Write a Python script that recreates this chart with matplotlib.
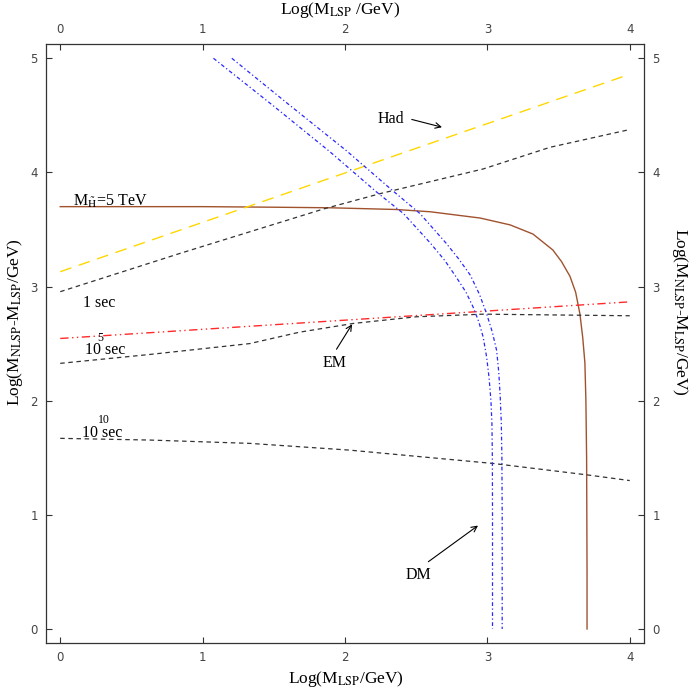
import numpy as np
import matplotlib
matplotlib.use('Agg')
import matplotlib.pyplot as plt

plt.rcParams['font.family'] = ['Liberation Serif', 'DejaVu Serif']
plt.rcParams['mathtext.fontset'] = 'stix'

# M_Htilde = 5 TeV contour
mh_x = [0.0, 1.0, 1.5, 1.9, 2.36, 2.6, 2.95, 3.16, 3.32, 3.46, 3.52, 3.58, 3.62, 3.65, 3.67, 3.685, 3.692, 3.697, 3.70, 3.70]
mh_y = [3.70, 3.70, 3.695, 3.69, 3.675, 3.655, 3.60, 3.54, 3.46, 3.32, 3.22, 3.09, 2.95, 2.76, 2.55, 2.33, 2.0, 1.5, 0.5, 0.0]

# hadronic bound (yellow)
had_x = [0.0, 4.0]
had_y = [3.13, 4.86]

# EM bound (red)
em_x = [0.0, 4.0]
em_y = [2.545, 2.866]

# lifetime contours
t1_x = [0.0, 0.84, 1.85, 2.25, 2.97, 3.44, 3.98]
t1_y = [2.955, 3.29, 3.68, 3.815, 4.03, 4.22, 4.37]
t5_x = [0.0, 0.63, 1.33, 1.68, 2.06, 2.5, 2.97, 4.0]
t5_y = [2.327, 2.405, 2.50, 2.60, 2.677, 2.735, 2.758, 2.744]
t10_x = [0.0, 0.63, 1.33, 2.03, 3.04, 3.70, 4.0]
t10_y = [1.67, 1.655, 1.626, 1.567, 1.45, 1.35, 1.30]

# dark matter band (blue)
dm1_x = [1.076, 1.5, 1.895, 2.22, 2.41, 2.60, 2.70, 2.78, 2.85, 2.90, 2.94, 2.97, 2.995, 3.012, 3.025, 3.032, 3.035, 3.036, 3.036]
dm1_y = [5.0, 4.58, 4.18, 3.83, 3.64, 3.38, 3.23, 3.085, 2.95, 2.82, 2.69, 2.56, 2.38, 2.2, 2.0, 1.8, 1.5, 1.0, 0.0]
dm2_x = [1.205, 1.6, 2.01, 2.316, 2.526, 2.71, 2.80, 2.88, 2.945, 2.995, 3.035, 3.065, 3.08, 3.09, 3.098, 3.102, 3.104, 3.104]
dm2_y = [5.0, 4.60, 4.19, 3.86, 3.64, 3.38, 3.24, 3.10, 2.93, 2.76, 2.60, 2.44, 2.25, 2.04, 1.8, 1.5, 1.0, 0.0]

fig = plt.figure(figsize=(6.95, 6.94), dpi=100)
ax = fig.add_axes([0.0662, 0.0735, 0.8604, 0.8631])

ax.plot(mh_x, mh_y, color='#A0522D', lw=1.0)
ax.plot(had_x, had_y, color='#FFD700', lw=1.0, dashes=(8.5, 5.5))
ax.plot(em_x, em_y, color='#FF2a2a', lw=1.0, dashes=(6, 2.5, 1, 2.5, 1, 2.5))
for xs, ys in [(t1_x, t1_y), (t5_x, t5_y), (t10_x, t10_y)]:
    ax.plot(xs, ys, color='#333333', lw=0.9, dashes=(3.6, 2.9))
ax.plot(dm1_x, dm1_y, color='#2828ff', lw=0.9, dashes=(3, 2, 1, 2))
ax.plot(dm2_x, dm2_y, color='#2828ff', lw=0.9, dashes=(3, 2, 1, 2))

fs = 11.5
ax.text(0.09, 3.71, r'M$_{\tilde{\rm H}}$=5 TeV', fontsize=fs, va='baseline')
ax.text(0.16, 2.86, '1 sec', fontsize=fs, va='center')
ax.text(0.175, 2.44, '10 sec', fontsize=fs, va='center')
ax.text(0.26, 2.55, '5', fontsize=8.5, va='center')
ax.text(0.155, 1.716, '10 sec', fontsize=fs, va='center')
ax.text(0.267, 1.83, '10', fontsize=8.5, va='center')

ax.text(2.32, 4.47, 'Had', fontsize=fs, ha='center', va='center')
ax.annotate('', xy=(2.70, 4.39), xytext=(2.45, 4.47),
            arrowprops=dict(arrowstyle='->', lw=0.8, color='k'))
ax.text(1.93, 2.33, 'EM', fontsize=fs, ha='center', va='center')
ax.annotate('', xy=(2.06, 2.69), xytext=(1.93, 2.43),
            arrowprops=dict(arrowstyle='->', lw=0.8, color='k'))
ax.text(2.515, 0.47, 'DM', fontsize=fs, ha='center', va='center')
ax.annotate('', xy=(2.95, 0.92), xytext=(2.57, 0.575),
            arrowprops=dict(arrowstyle='->', lw=0.8, color='k'))

ax.set_xlim(-0.1, 4.1)
ax.set_ylim(-0.123, 5.125)
ax.set_xticks([0, 1, 2, 3, 4])
ax.set_yticks([0, 1, 2, 3, 4, 5])
ax.tick_params(direction='in', length=4, width=0.8, color='#333333',
               top=True, right=True, labeltop=True, labelright=True,
               labelsize=8.5, labelcolor='#444444', pad=6)
for lab in ax.get_xticklabels() + ax.get_yticklabels():
    lab.set_fontfamily('DejaVu Sans')
for s in ax.spines.values():
    s.set_color('#333333')
    s.set_linewidth(0.9)

lfs = 12.5
fig.text(346 / 695, 1 - 683 / 694, r'Log(M$_{\rm LSP}$/GeV)', fontsize=lfs,
         ha='center', va='baseline')
fig.text(340 / 695, 1 - 14 / 694, r'Log(M$_{\rm LSP}$ /GeV)', fontsize=lfs,
         ha='center', va='baseline')
fig.text(15 / 695, 1 - 322 / 694, r'Log(M$_{\rm NLSP}$-M$_{\rm LSP}$/GeV)',
         fontsize=lfs, rotation=90, ha='center', va='center')
fig.text(680 / 695, 1 - 312 / 694, r'Log(M$_{\rm NLSP}$-M$_{\rm LSP}$/GeV)',
         fontsize=lfs, rotation=270, ha='center', va='center')

fig.savefig('out.png', dpi=100)
